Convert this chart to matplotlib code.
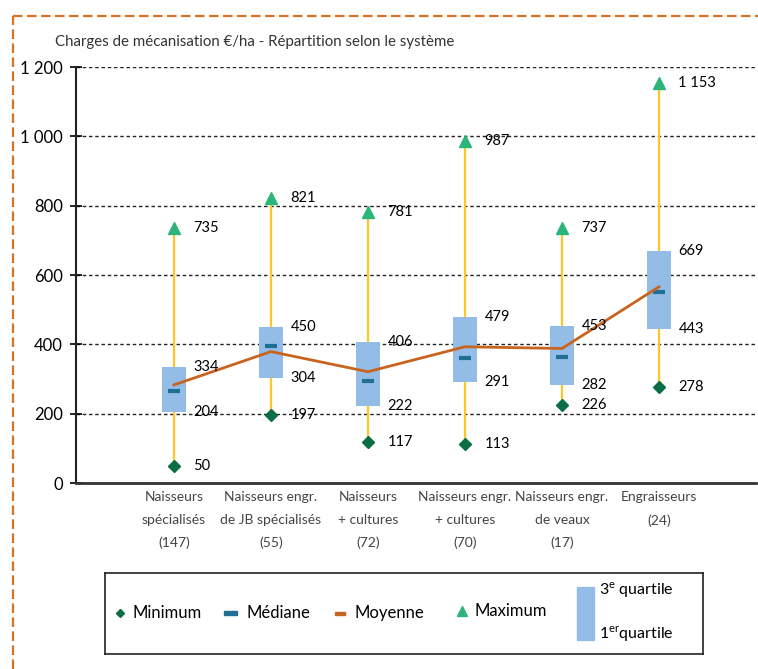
import matplotlib
matplotlib.use("Agg")
import matplotlib.pyplot as plt
from matplotlib.lines import Line2D
from matplotlib.patches import Rectangle
from matplotlib.ticker import FuncFormatter

plt.rcParams['font.family'] = ['Lato', 'DejaVu Sans']
plt.rcParams['mathtext.fontset'] = 'custom'
plt.rcParams['mathtext.rm'] = 'Lato'

# data
categories = ["Naisseurs\nspécialisés\n(147)",
              "Naisseurs engr.\nde JB spécialisés\n(55)",
              "Naisseurs\n+ cultures\n(72)",
              "Naisseurs engr.\n+ cultures\n(70)",
              "Naisseurs engr.\nde veaux\n(17)",
              "Engraisseurs\n(24)"]
minimum = [50, 197, 117, 113, 226, 278]
q1 = [204, 304, 222, 291, 282, 443]
median = [264, 396, 294, 361, 364, 550]
mean = [283, 379, 321, 393, 388, 566]
q3 = [334, 450, 406, 479, 453, 669]
maximum = [735, 821, 781, 987, 737, 1153]
yticks = [0, 200, 400, 600, 800, 1000, 1200]

c_whisk = '#FFC629'
c_box = '#93BDE6'
c_med = '#1F6E94'
c_mean = '#C8641E'
c_max = '#2BB57A'
c_min = '#0B6E45'
c_border = '#D9731F'

def fmt_num(v):
    return f"{v:,.0f}".replace(",", " ")

fig = plt.figure(figsize=(7.58, 6.69), dpi=100)
ax = fig.add_axes([76/758, 1 - 483/669, (756 - 76)/758, (483 - 67)/669])

x = list(range(len(categories)))

ax.vlines(x, minimum, maximum, color=c_whisk, lw=1.6, zorder=2)
ax.bar(x, [b - a for a, b in zip(q1, q3)], bottom=q1, width=0.24,
       color=c_box, zorder=3)
ax.plot(x, median, ls='none', marker='_', ms=9, mew=3, color=c_med, zorder=4)
ax.plot(x, mean, color=c_mean, lw=2, zorder=5)
ax.plot(x, maximum, ls='none', marker='^', ms=9, color=c_max, zorder=4)
ax.plot(x, minimum, ls='none', marker='D', ms=6, color=c_min, zorder=4)

for i in x:
    for v in (maximum[i], q3[i], q1[i], minimum[i]):
        ax.text(i + 0.2, v, fmt_num(v), ha='left', va='center',
                fontsize=10.5, color='black', zorder=6)

ax.set_xlim(-1.01, 6.0)
ax.set_ylim(0, 1200)
ax.set_yticks(yticks)
ax.yaxis.set_major_formatter(FuncFormatter(lambda v, p: fmt_num(v)))
ax.tick_params(axis='y', direction='inout', length=9, width=1.2,
               labelsize=12, pad=5, colors='black')
ax.set_xticks(x)
ax.set_xticklabels(categories, fontsize=10, color='#444444', linespacing=2.05)
ax.tick_params(axis='x', length=0, pad=6)

for v in yticks[1:]:
    ax.axhline(v, color='#222222', lw=1, ls=(0, (2.5, 2)), zorder=1)

ax.spines['top'].set_visible(False)
ax.spines['right'].set_visible(False)
ax.spines['left'].set_linewidth(1.5)
ax.spines['bottom'].set_linewidth(2)
ax.spines['left'].set_color('#222222')
ax.spines['bottom'].set_color('#333333')

fig.text(55/758, 1 - 42/669, "Charges de mécanisation €/ha - Répartition selon le système",
         fontsize=10.8, color='#333333', va='center', ha='left')

# dashed frame
fx = 12.7/758
fy = 1 - 16/669
fig.add_artist(Line2D([fx, fx], [0, fy], color=c_border, lw=1.6,
                      ls=(0, (4.3, 2))))
fig.add_artist(Line2D([fx, 1], [fy, fy], color=c_border, lw=1.6,
                      ls=(0, (4.3, 2))))

# legend box
lg = fig.add_axes([105/758, 1 - 654/669, (703 - 105)/758, (654 - 573)/669])
lg.set_xlim(105, 703)
lg.set_ylim(654, 573)
lg.set_xticks([])
lg.set_yticks([])
for s in lg.spines.values():
    s.set_linewidth(1.2)
    s.set_color('#222222')
ly = 613
lg.plot([120], [ly], marker='D', ms=4, color=c_min)
lg.text(133, ly, "Minimum", fontsize=12, va='center')
lg.add_patch(Rectangle((224, ly - 2), 13, 4, color=c_med))
lg.text(247, ly, "Médiane", fontsize=12, va='center')
lg.add_patch(Rectangle((335, ly - 1.5), 10, 3, color=c_mean))
lg.text(355, ly, "Moyenne", fontsize=12, va='center')
lg.plot([462], [ly - 2], marker='^', ms=7, color=c_max)
lg.text(474, ly - 2, "Maximum", fontsize=12, va='center')
lg.add_patch(Rectangle((577, 587), 17, 53, color=c_box))
lg.text(599, 590, r"3$^{\mathrm{e}}$ quartile", fontsize=11.5, va='center')
lg.text(599, 634, r"1$^{\mathrm{er}}$quartile", fontsize=11.5, va='center')

fig.savefig("out.png", dpi=100)
